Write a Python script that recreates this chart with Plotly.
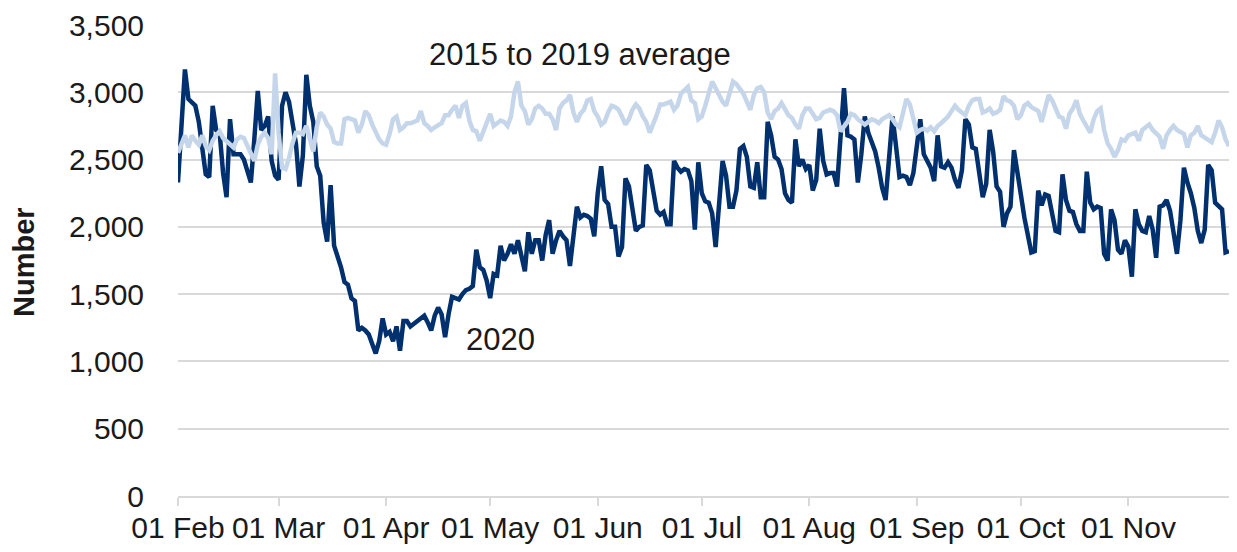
import pandas as pd
import plotly.graph_objects as go

start_date = "2020-02-01"

deaths_2020 = [
    # Feb
    2330, 2700, 3170, 2950, 2930, 2900, 2780, 2560, 2390, 2370, 2900, 2720, 2700, 2400, 2220,
    2800, 2540, 2540, 2540, 2500, 2420, 2330, 2650, 3010, 2720, 2750, 2820, 2490, 2380,
    # Mar
    2350, 2900, 3000, 2930, 2750, 2620, 2300, 2530, 3130, 2900, 2780, 2450, 2380, 2030, 1890,
    2310, 1860, 1780, 1700, 1590, 1570, 1470, 1450, 1230, 1250, 1230, 1200, 1130, 1060, 1150, 1320,
    # Apr
    1200, 1220, 1150, 1260, 1080, 1300, 1300, 1260, 1280, 1300, 1330, 1340, 1290, 1230, 1340,
    1400, 1350, 1180, 1350, 1480, 1470, 1460, 1500, 1530, 1540, 1560, 1830, 1700, 1680, 1600,
    # May
    1470, 1650, 1640, 1860, 1750, 1800, 1870, 1800, 1900, 1780, 1670, 1960, 1800, 1900, 1900,
    1750, 1940, 2050, 1800, 1900, 1970, 1930, 1900, 1710, 1950, 2150, 2070, 2090, 2080, 2060, 1930,
    # Jun
    2250, 2450, 2200, 2170, 2000, 2000, 1780, 1850, 2360, 2300, 2140, 1970, 2000, 2010, 2460,
    2420, 2270, 2120, 2090, 2110, 2020, 2020, 2490, 2440, 2410, 2430, 2420, 2340, 1980, 2480,
    # Jul
    2250, 2190, 2180, 2100, 1850, 2200, 2490, 2380, 2150, 2150, 2270, 2580, 2600, 2520, 2300,
    2290, 2480, 2220, 2220, 2780, 2680, 2520, 2500, 2430, 2250, 2200, 2180, 2650, 2450, 2500, 2430,
    # Aug
    2460, 2270, 2350, 2730, 2490, 2390, 2400, 2400, 2300, 2700, 3030, 2680, 2670, 2650, 2330,
    2540, 2820, 2700, 2620, 2560, 2440, 2290, 2200, 2500, 2820, 2600, 2370, 2380, 2370, 2310, 2400,
    # Sep
    2600, 2800, 2540, 2490, 2440, 2340, 2680, 2450, 2440, 2480, 2440, 2350, 2290, 2420, 2800,
    2760, 2590, 2580, 2400, 2220, 2320, 2720, 2560, 2300, 2260, 2000, 2100, 2150, 2570, 2380,
    # Oct
    2240, 2070, 1930, 1810, 1820, 2270, 2160, 2240, 2230, 2100, 1970, 1960, 2390, 2200, 2120,
    2110, 2020, 1970, 1970, 2410, 2180, 2130, 2150, 2140, 1800, 1750, 2130, 2050, 1830, 1800, 1900,
    # Nov
    1850, 1630, 2130, 2020, 1970, 1960, 2080, 1980, 1770, 2150, 2160, 2200, 2120, 1970, 1800,
    2050, 2440, 2330, 2250, 2140, 1970, 1880, 1980, 2460, 2420, 2180, 2150, 2130, 1810, 1820,
]

average_2015_2019 = [
    # Feb
    2550, 2610, 2680, 2590, 2680, 2640, 2610, 2680, 2600, 2570, 2640, 2680, 2710, 2660, 2640,
    2610, 2590, 2650, 2670, 2660, 2600, 2560, 2490, 2610, 2670, 2700, 2660, 2540, 3140,
    # Mar
    2700, 2440, 2430, 2510, 2620, 2700, 2700, 2690, 2750, 2650, 2560, 2740, 2850, 2820, 2760,
    2730, 2630, 2620, 2620, 2800, 2810, 2800, 2790, 2700, 2760, 2860, 2830, 2760, 2710, 2650, 2620,
    # Apr
    2610, 2690, 2800, 2820, 2720, 2740, 2770, 2770, 2780, 2790, 2860, 2770, 2750, 2720, 2740,
    2760, 2770, 2830, 2830, 2870, 2900, 2810, 2900, 2920, 2790, 2720, 2710, 2640, 2700, 2780,
    # May
    2840, 2750, 2770, 2790, 2780, 2750, 2820, 3000, 3080, 2900, 2860, 2760, 2800, 2880, 2900,
    2880, 2840, 2840, 2800, 2720, 2880, 2920, 2940, 2980, 2850, 2780, 2840, 2870, 2940, 2950, 2860,
    # Jun
    2820, 2760, 2780, 2850, 2900, 2890, 2870, 2820, 2760, 2800, 2870, 2910, 2880, 2820, 2780,
    2700, 2760, 2830, 2910, 2910, 2920, 2930, 2870, 2900, 2990, 3010, 3040, 2940, 2920, 2800,
    # Jul
    2820, 2900, 3000, 3080, 3030, 2970, 2930, 2900, 3000, 3080, 3060, 3030, 2990, 2930, 2870,
    2980, 3030, 3040, 3000, 2850, 2800, 2860, 2880, 2920, 2870, 2830, 2810, 2760, 2730, 2830, 2880,
    # Aug
    2880, 2840, 2800, 2810, 2850, 2860, 2870, 2860, 2830, 2710, 2740, 2780, 2840, 2830, 2800,
    2780, 2760, 2780, 2800, 2790, 2770, 2800, 2820, 2830, 2800, 2760, 2740, 2850, 2950, 2910, 2800,
    # Sep
    2700, 2720, 2730, 2715, 2740, 2710, 2750, 2770, 2790, 2820, 2860, 2900, 2870, 2850, 2830,
    2900, 2940, 2950, 2950, 2850, 2860, 2880, 2840, 2850, 2870, 2970, 2940, 2930, 2900, 2800,
    # Oct
    2830, 2900, 2920, 2890, 2870, 2860, 2780, 2880, 2980, 2940, 2880, 2820, 2810, 2730, 2840,
    2880, 2940, 2840, 2790, 2750, 2700, 2800, 2860, 2880, 2720, 2620, 2580, 2520, 2570, 2650, 2640,
    # Nov
    2680, 2690, 2700, 2640, 2720, 2740, 2760, 2720, 2700, 2670, 2580, 2680, 2720, 2750, 2720,
    2700, 2690, 2590, 2680, 2700, 2750, 2680, 2660, 2650, 2630, 2700, 2790, 2740, 2650, 2600,
]

dates = pd.date_range(start_date, periods=len(deaths_2020), freq="D")

y_ticks = [0, 500, 1000, 1500, 2000, 2500, 3000, 3500]
x_tick_dates = pd.date_range("2020-02-01", "2020-11-01", freq="MS")
x_tick_labels = [d.strftime("%d %b") for d in x_tick_dates]

DARK = "#00306e"
LIGHT = "#c6d6ea"
TEXT = "#1a1a1a"
FONT = "Liberation Sans, Arial, sans-serif"

fig = go.Figure()
fig.add_trace(go.Scatter(x=dates, y=deaths_2020, mode="lines",
                         line=dict(color=DARK, width=4.5), name="2020"))
fig.add_trace(go.Scatter(x=dates, y=average_2015_2019, mode="lines",
                         line=dict(color=LIGHT, width=4.5), name="2015 to 2019 average"))

# page body has an 8px default margin; size the figure so it fits the visible page
fig.update_layout(
    width=1221, height=536,
    margin=dict(l=170, r=0, t=17, b=48, autoexpand=False),
    paper_bgcolor="white", plot_bgcolor="white",
    showlegend=False,
    font=dict(family=FONT, size=30, color=TEXT),
    xaxis=dict(
        range=[dates[0], dates[-1]], automargin=False,
        tickvals=list(x_tick_dates), ticktext=x_tick_labels,
        showgrid=False, showline=True, linecolor="#d9d9d9", linewidth=1.5,
        ticks="outside", ticklen=8, tickcolor="#d9d9d9", tickwidth=1.5,
        tickfont=dict(size=30, color=TEXT), ticklabelstandoff=-4,
        zeroline=False,
    ),
    yaxis=dict(
        range=[0, 3500], tickvals=y_ticks, tickformat=",", automargin=False,
        showgrid=True, gridcolor="#d9d9d9", gridwidth=1.5,
        showline=False, zeroline=False, ticks="",
        tickfont=dict(size=30, color=TEXT), ticklabelstandoff=33,
    ),
)

fig.add_annotation(x=-0.1465, y=0.497, xref="paper", yref="paper", text="<b>Number</b>",
                   textangle=-90, showarrow=False, xanchor="center", yanchor="middle",
                   font=dict(size=29, color=TEXT))
fig.add_annotation(x="2020-05-27", y=3279, text="2015 to 2019 average", showarrow=False,
                   font=dict(size=31, color=TEXT), xref="x", yref="y")
fig.add_annotation(x="2020-05-04", y=1161, text="2020", showarrow=False,
                   font=dict(size=31, color=TEXT), xref="x", yref="y")

fig.write_html("out.html")
